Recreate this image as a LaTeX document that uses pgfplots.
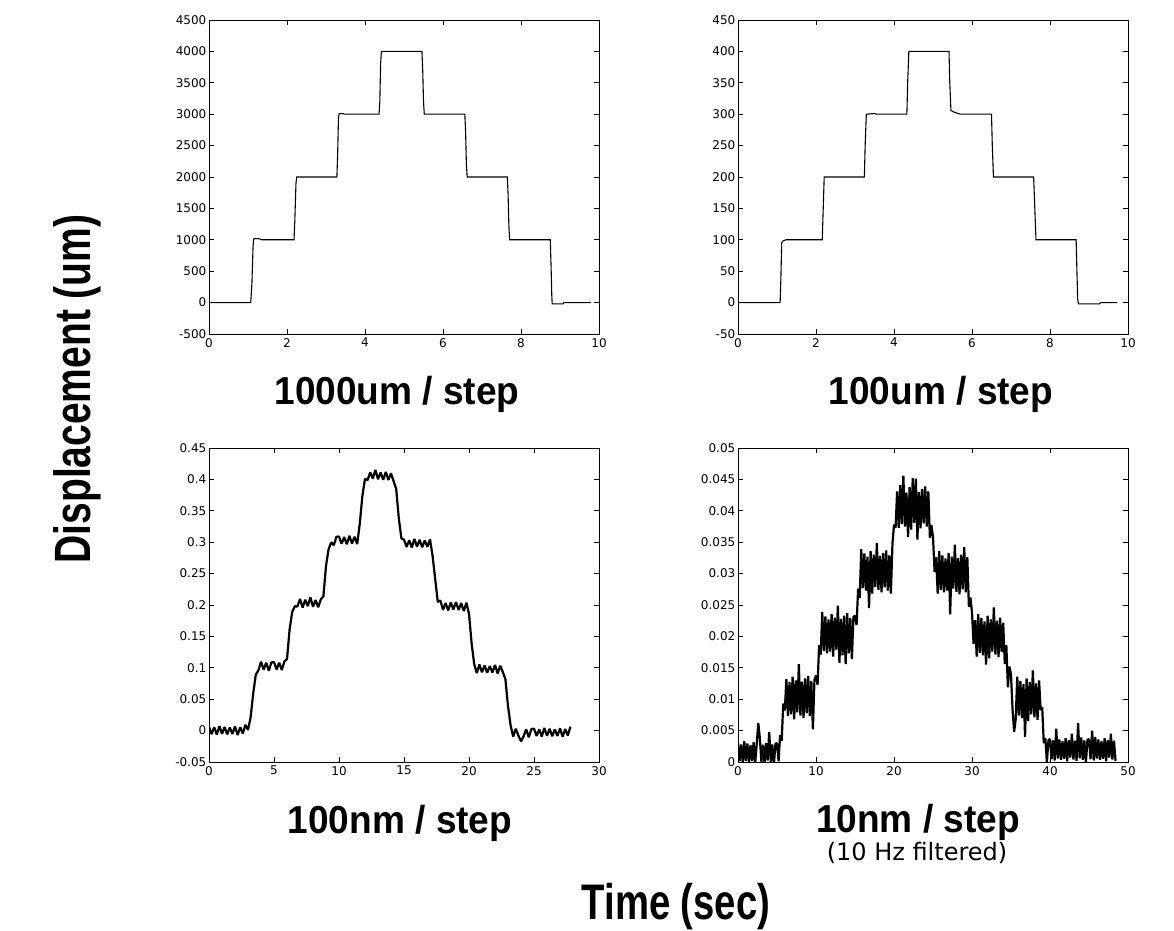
\documentclass[border=0pt]{standalone}
\usepackage{fontspec}
\usepackage{pgfplots}
\pgfplotsset{compat=1.18}
\setmainfont{DejaVu Sans}
\newfontfamily\tickfont{DejaVu Sans}
\newfontfamily\titlefont[FakeStretch=0.95]{Liberation Sans Bold}
\newfontfamily\labelfont[FakeStretch=0.765]{Liberation Sans Bold}
\newfontfamily\subfont{DejaVu Sans}
\pgfplotsset{
  panel/.style={
    scale only axis, width=390pt, height=314pt, anchor=south west,
    tick align=inside, major tick length=5pt, minor tick num=0,
    axis line style={line width=0.9pt, black},
    every tick/.style={black, line width=0.7pt},
    tick label style={font=\fontsize{12}{14}\tickfont, inner sep=0pt, black},
    yticklabel style={anchor=east, xshift=-2.5pt},
    xticklabel style={anchor=north, yshift=-4pt},
    scaled ticks=false, clip=true,
  },
}
\begin{document}
\begin{tikzpicture}
\path[use as bounding box] (0pt,0pt) rectangle (1174pt,930pt);

% ---------- top left: 1000um / step
\begin{axis}[panel, at={(209pt,596pt)},
  xmin=0, xmax=10, ymin=-500, ymax=4500,
  xtick={0,2,4,6,8,10}, xticklabels={0,2,4,6,8,10},
  ytick={-500,0,500,1000,1500,2000,2500,3000,3500,4000,4500},
  yticklabels={-500,0,500,1000,1500,2000,2500,3000,3500,4000,4500}]
\addplot[black, line width=1.1pt] coordinates {
(0,0) (1.07,0) (1.10,300) (1.13,900) (1.145,1015) (1.2,1020) (1.3,1015) (1.35,1000)
(2.18,1000) (2.20,1300) (2.23,1900) (2.25,2000)
(3.28,2000) (3.30,2400) (3.32,2950) (3.34,3010) (3.44,3010) (3.47,3000)
(4.36,3000) (4.38,3200) (4.40,3800) (4.42,4000)
(5.46,4000) (5.48,3700) (5.50,3200) (5.52,3000)
(6.56,3000) (6.58,2700) (6.60,2200) (6.62,2000)
(7.65,2000) (7.67,1700) (7.69,1200) (7.71,1000)
(8.75,1000) (8.77,600) (8.79,100) (8.80,-20) (9.08,-20) (9.10,0) (9.80,0)};
\end{axis}

% ---------- top right: 100um / step
\begin{axis}[panel, at={(738pt,596pt)},
  xmin=0, xmax=10, ymin=-50, ymax=450,
  xtick={0,2,4,6,8,10}, xticklabels={0,2,4,6,8,10},
  ytick={-50,0,50,100,150,200,250,300,350,400,450},
  yticklabels={-50,0,50,100,150,200,250,300,350,400,450}]
\addplot[black, line width=1.1pt] coordinates {
(0,0) (1.08,0) (1.10,40) (1.12,95) (1.15,98) (1.23,100)
(2.16,100) (2.18,140) (2.21,200)
(3.24,200) (3.26,250) (3.29,300) (3.50,301) (3.55,300)
(4.33,300) (4.35,350) (4.38,400)
(5.41,400) (5.43,350) (5.46,306) (5.55,303) (5.70,300)
(6.50,300) (6.52,250) (6.55,200)
(7.58,200) (7.61,150) (7.64,100)
(8.67,100) (8.69,50) (8.71,5) (8.73,-2) (9.27,-2) (9.30,0) (9.73,0)};
\end{axis}

% ---------- bottom left: 100nm / step
\begin{axis}[panel, at={(209pt,168pt)},
  xmin=0, xmax=30, ymin=-0.05, ymax=0.45,
  xtick={0,5,10,15,20,25,30}, xticklabels={0,5,10,15,20,25,30},
  ytick={-0.05,0,0.05,0.1,0.15,0.2,0.25,0.3,0.35,0.4,0.45},
  yticklabels={-0.05,0,0.05,0.1,0.15,0.2,0.25,0.3,0.35,0.4,0.45}]
\addplot[black, line width=2.2pt, line join=bevel] coordinates {
(0,0.0060) (0.2,-0.0056) (0.4,0.0052) (0.6,-0.0064) (0.8,0.0072) (1.0,-0.0052)
(1.2,0.0058) (1.4,-0.0060) (1.6,0.0048) (1.8,-0.0054) (2.0,0.0066) (2.2,-0.0070)
(2.4,0.0054) (2.6,-0.0048) (2.8,0.0092) (3.0,0.001) (3.2,0.021) (3.4,0.059)
(3.6,0.089) (3.8,0.096) (4.0,0.1098) (4.2,0.0970) (4.4,0.1082) (4.6,0.0952)
(4.8,0.1086) (5.0,0.1090) (5.2,0.0974) (5.4,0.1082) (5.6,0.0966) (5.8,0.1102)
(6.0,0.114) (6.2,0.161) (6.4,0.189) (6.6,0.198) (6.8,0.1976) (7.0,0.2096)
(7.2,0.1960) (7.4,0.2084) (7.6,0.1982) (7.8,0.2122) (8.0,0.1972) (8.2,0.2080)
(8.4,0.1964) (8.6,0.2090) (8.8,0.214) (9.0,0.262) (9.2,0.289) (9.4,0.300)
(9.6,0.2952) (9.8,0.3086) (10.0,0.3090) (10.2,0.2974) (10.4,0.3082) (10.6,0.2966)
(10.8,0.3102) (11.0,0.2978) (11.2,0.3088) (11.4,0.2970) (11.6,0.330) (11.8,0.374)
(12.0,0.401) (12.2,0.3990) (12.4,0.4114) (12.6,0.4012) (12.8,0.4152) (13.0,0.4002)
(13.2,0.4110) (13.4,0.3994) (13.6,0.4120) (13.8,0.3990) (14.0,0.4098) (14.2,0.3970)
(14.4,0.385) (14.6,0.338) (14.8,0.306) (15.0,0.3040) (15.2,0.2924) (15.4,0.3032)
(15.6,0.2916) (15.8,0.3052) (16.0,0.2928) (16.2,0.3038) (16.4,0.2920) (16.6,0.3028)
(16.8,0.2926) (17.0,0.3046) (17.2,0.278) (17.4,0.241) (17.6,0.205) (17.8,0.2072)
(18.0,0.1922) (18.2,0.2030) (18.4,0.1914) (18.6,0.2040) (18.8,0.1930) (19.0,0.2048)
(19.2,0.1920) (19.4,0.2032) (19.6,0.1902) (19.8,0.2036) (20.0,0.186) (20.2,0.139)
(20.4,0.106) (20.6,0.0916) (20.8,0.1052) (21.0,0.0928) (21.2,0.1038) (21.4,0.0920)
(21.6,0.1028) (21.8,0.0926) (22.0,0.1046) (22.2,0.0910) (22.4,0.1034) (22.6,0.0932)
(22.8,0.082) (23.0,0.039) (23.2,0.0085) (23.4,-0.0096) (23.6,0.0030) (23.8,-0.0080)
(24.0,-0.0170) (24.2,-0.0090) (24.4,0.0022) (24.6,-0.0108) (24.8,0.0026) (25.0,0.0030)
(25.2,-0.0086) (25.4,0.0022) (25.6,-0.0094) (25.8,0.0042) (26.0,-0.0082) (26.2,0.0028)
(26.4,-0.0090) (26.6,0.0018) (26.8,-0.0084) (27.0,0.0036) (27.2,-0.0100) (27.4,0.0024)
(27.6,-0.0078) (27.8,0.0062)};
\end{axis}

% ---------- bottom right: 10nm / step
\begin{axis}[panel, at={(738pt,168pt)},
  xmin=0, xmax=50, ymin=0, ymax=0.05,
  xtick={0,10,20,30,40,50}, xticklabels={0,10,20,30,40,50},
  ytick={0,0.005,0.01,0.015,0.02,0.025,0.03,0.035,0.04,0.045,0.05},
  yticklabels={0,0.005,0.01,0.015,0.02,0.025,0.03,0.035,0.04,0.045,0.05}]
\addplot[black, line width=2.2pt, line join=bevel] coordinates {
(0,0.0030) (0.2,0.0001) (0.4,0.0028) (0.6,-0.0001) (0.8,0.0033) (1.0,0.0002)
(1.2,0.00295) (1.4,0.0000) (1.6,0.0027) (1.8,0.00015) (2.0,0.00315) (2.2,-0.00025)
(2.4,0.00285) (2.6,0.0062) (2.8,0.0038) (3.0,0.00005) (3.2,0.00275) (3.4,-0.00015)
(3.6,0.0030) (3.8,0.00025) (4.0,0.0048) (4.2,0.0000) (4.4,0.0028) (4.6,-0.00045)
(4.8,0.0029) (5.0,0.0030) (5.2,0.0001) (5.4,0.0043) (5.6,0.0034) (5.8,0.0093)
(6.0,0.0082) (6.2,0.0132) (6.4,0.0073) (6.6,0.0127) (6.8,0.0076) (7.0,0.0136)
(7.2,0.0068) (7.4,0.0130) (7.6,0.0079) (7.8,0.0156) (8.0,0.0074) (8.2,0.0128)
(8.4,0.0070) (8.6,0.0133) (8.8,0.0078) (9.0,0.0137) (9.2,0.0073) (9.4,0.0129)
(9.6,0.0052) (9.8,0.0131) (10.0,0.0138) (10.2,0.0123) (10.4,0.0186) (10.6,0.0171)
(10.8,0.0239) (11.0,0.0177) (11.2,0.0232) (11.4,0.0173) (11.6,0.0227) (11.8,0.0176)
(12.0,0.0236) (12.2,0.0168) (12.4,0.0230) (12.6,0.0179) (12.8,0.0249) (13.0,0.0158)
(13.2,0.0228) (13.4,0.0170) (13.6,0.0233) (13.8,0.0156) (14.0,0.0237) (14.2,0.0173)
(14.4,0.0229) (14.6,0.0164) (14.8,0.0231) (15.0,0.0233) (15.2,0.0218) (15.4,0.0276)
(15.6,0.0261) (15.8,0.0339) (16.0,0.0277) (16.2,0.0332) (16.4,0.0273) (16.6,0.0327)
(16.8,0.0245) (17.0,0.0336) (17.2,0.0268) (17.4,0.0330) (17.6,0.0279) (17.8,0.0349)
(18.0,0.0274) (18.2,0.0328) (18.4,0.0270) (18.6,0.0333) (18.8,0.0278) (19.0,0.0337)
(19.2,0.0273) (19.4,0.0329) (19.6,0.0268) (19.8,0.0347) (20.0,0.0378) (20.2,0.0373)
(20.4,0.0431) (20.6,0.0373) (20.8,0.0441) (21.0,0.0379) (21.2,0.0456) (21.4,0.0375)
(21.6,0.0429) (21.8,0.0358) (22.0,0.0438) (22.2,0.0370) (22.4,0.0452) (22.6,0.0381)
(22.8,0.0451) (23.0,0.0354) (23.2,0.0430) (23.4,0.0372) (23.6,0.0435) (23.8,0.0380)
(24.0,0.0439) (24.2,0.0375) (24.4,0.0431) (24.6,0.0357) (24.8,0.0377) (25.0,0.0358)
(25.2,0.0303) (25.4,0.0326) (25.6,0.0268) (25.8,0.0336) (26.0,0.0274) (26.2,0.0329)
(26.4,0.0270) (26.6,0.0324) (26.8,0.0273) (27.0,0.0333) (27.2,0.0235) (27.4,0.0327)
(27.6,0.0276) (27.8,0.0346) (28.0,0.0271) (28.2,0.0325) (28.4,0.0267) (28.6,0.0330)
(28.8,0.0275) (29.0,0.0342) (29.2,0.0270) (29.4,0.0326) (29.6,0.0247) (29.8,0.0262)
(30.0,0.0238) (30.2,0.0188) (30.4,0.0226) (30.6,0.0168) (30.8,0.0236) (31.0,0.0174)
(31.2,0.0229) (31.4,0.0170) (31.6,0.0224) (31.8,0.0155) (32.0,0.0233) (32.2,0.0165)
(32.4,0.0227) (32.6,0.0176) (32.8,0.0246) (33.0,0.0171) (33.2,0.0225) (33.4,0.0167)
(33.6,0.0230) (33.8,0.0175) (34.0,0.0222) (34.2,0.0156) (34.4,0.0186) (34.6,0.0119)
(34.8,0.0152) (35.0,0.0139) (35.2,0.0083) (35.4,0.0048) (35.6,0.0068) (35.8,0.0136)
(36.0,0.0074) (36.2,0.0129) (36.4,0.0070) (36.6,0.0124) (36.8,0.0040) (37.0,0.0133)
(37.2,0.0065) (37.4,0.0127) (37.6,0.0076) (37.8,0.0146) (38.0,0.0071) (38.2,0.0125)
(38.4,0.0067) (38.6,0.0130) (38.8,0.00825) (39.0,0.0087) (39.2,0.0030) (39.4,0.0038)
(39.6,-0.0001) (39.8,0.0035) (40.0,0.00365) (40.2,0.00045) (40.4,0.00345) (40.6,0.00025)
(40.8,0.0053) (41.0,0.00055) (41.2,0.0036) (41.4,0.00035) (41.6,0.0033) (41.8,0.0005)
(42.0,0.0038) (42.2,0.0001) (42.4,0.0035) (42.6,0.0007) (42.8,0.0045) (43.0,0.0004)
(43.2,0.0034) (43.4,0.0002) (43.6,0.0062) (43.8,0.0006) (44.0,0.0039) (44.2,0.00035)
(44.4,0.00345) (44.6,-0.00015) (44.8,0.00355) (45.0,0.00365) (45.2,0.00045) (45.4,0.0050)
(45.6,0.00025) (45.8,0.0040) (46.0,0.00055) (46.2,0.0036) (46.4,0.00035) (46.6,0.0033)
(46.8,0.0005) (47.0,0.0038) (47.2,0.0001) (47.4,0.0035) (47.6,0.0007) (47.8,0.0045)
(48.0,0.0004) (48.2,0.0034) (48.4,0.0002)};
\end{axis}

% ---------- titles and labels
\node[anchor=base, font=\fontsize{39}{44}\titlefont] at (397pt,525pt) {1000um / step};
\node[anchor=base, font=\fontsize{39}{44}\titlefont] at (941pt,525pt) {100um / step};
\node[anchor=base, font=\fontsize{39}{44}\titlefont] at (400pt,97pt) {100nm / step};
\node[anchor=base, font=\fontsize{39}{44}\titlefont] at (918pt,98pt) {10nm / step};
\node[anchor=base, font=\fontsize{24}{28}\subfont] at (917pt,70pt) {(10 Hz filtered)};
\node[anchor=base, font=\fontsize{50}{58}\labelfont] at (676pt,11pt) {Time (sec)};
\node[anchor=base, rotate=90, font=\fontsize{51}{58}\labelfont] at (90pt,541pt) {Displacement (um)};
\end{tikzpicture}
\end{document}
